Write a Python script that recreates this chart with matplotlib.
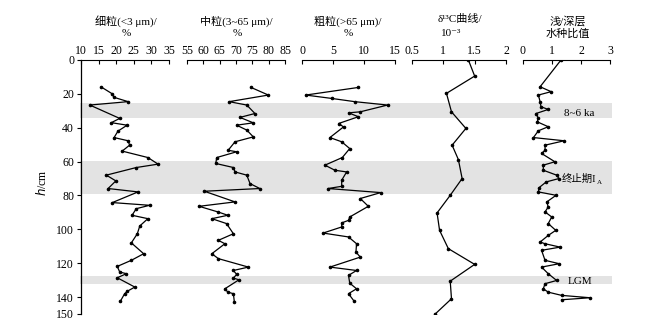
import matplotlib
matplotlib.use("Agg")
import matplotlib.pyplot as plt

# fonts: serif digits, CJK fallback for the Chinese titles
FONTS = ["Liberation Serif", "DejaVu Serif", "Noto Sans CJK SC"]
plt.rcParams["font.family"] = FONTS
plt.rcParams["font.size"] = 8

# ---- data (depth in cm) ----
fine_depth = [16, 20, 22, 24.6, 26.6, 34.5, 37, 38.5, 42, 45.8, 47.7, 50.3, 53.8,
              57.6, 61.5, 63.5, 68, 71.4, 75.9, 77.9, 84.2, 85.8, 87.8, 91.7, 93.7,
              98, 102.6, 108, 114.4, 118.3, 121.9, 125.2, 126.2, 128.6, 134.1,
              136.5, 138, 142.4]
fine_val = [15.8, 18.9, 19.3, 23.4, 12.5, 21.0, 18.6, 23.1, 20.5, 19.4, 23.4, 23.8,
            21.7, 29.0, 31.9, 25.7, 17.2, 19.9, 17.7, 26.2, 18.9, 29.5, 25.7, 24.5,
            29.0, 26.7, 26.0, 24.3, 27.8, 24.3, 20.3, 21.0, 22.9, 20.3, 25.3, 23.2,
            22.4, 21.2]

mid_depth = [16.2, 20.7, 24.6, 26.6, 31.6, 33.9, 37.1, 38.5, 41.4, 45.4, 48.3, 53.3,
             54.2, 57.6, 61.1, 63.5, 66.1, 68, 73, 75.9, 77.5, 83.8, 86.4, 89.8,
             91.7, 93.7, 96.6, 102.6, 106.5, 108.5, 114.4, 117.3, 122.3, 124.3,
             126.6, 128.8, 129.8, 135.1, 137.1, 138, 143]
mid_val = [74.6, 79.9, 67.9, 73.3, 75.8, 71.2, 75.3, 70.2, 73.3, 75.3, 69.7, 67.6,
           70.2, 64.1, 63.8, 69.2, 69.7, 73.3, 74.3, 77.3, 60.3, 69.7, 58.7, 64.6,
           67.5, 62.6, 67.1, 69.2, 64.6, 66.6, 62.6, 64.6, 73.8, 69.2, 70.2, 69.2,
           70.9, 66.6, 67.5, 69.2, 69.5]

coarse_depth = [16.2, 20.7, 22.7, 24.6, 26.6, 30.6, 31.2, 33.5, 37.5, 39.5, 45.8,
                48.3, 52.3, 57.6, 62.1, 65.1, 66.1, 71, 74.6, 75.9, 78.3, 81.8,
                86.4, 92.7, 94.7, 96.2, 98.6, 102.2, 104.5, 108.5, 113.4, 116.4,
                122.3, 124.3, 127.2, 131.8, 135.1, 138, 142.4]
coarse_val = [9.1, 0.6, 4.8, 8.5, 13.8, 9.4, 7.5, 9.1, 5.9, 6.7, 4.5, 6.4, 7.7, 6.5,
              3.7, 5.3, 7.2, 6.4, 6.4, 4.2, 12.7, 9.4, 10.7, 7.7, 7.5, 6.4, 6.4,
              3.4, 7.5, 8.8, 8.7, 9.4, 4.5, 8.8, 7.5, 7.7, 8.8, 7.5, 8.4]

d13c_depth = [0, 9.5, 19.7, 30.6, 40.4, 50.3, 58.8, 70, 79.9, 90.3, 100.6, 111.4,
              120.7, 130.6, 141, 150]
d13c_val = [1.40, 1.50, 1.05, 1.13, 1.36, 1.14, 1.24, 1.30, 1.11, 0.90, 0.94, 1.08,
            1.50, 1.11, 1.13, 0.87]

ratio_depth = [0, 15.8, 18.7, 20.7, 24.7, 27.6, 29.2, 31.6, 34.5, 36.5, 39.4, 41.8,
               45.8, 47.7, 50.3, 53.3, 55.2, 60.1, 62.1, 65.1, 68, 70, 72, 75.3,
               77.9, 79.9, 83.8, 86.8, 89.7, 92.7, 96.6, 100.6, 103.6, 107.5, 108.5,
               110.5, 112.4, 118.3, 120.3, 122.3, 126.2, 130.2, 132.1, 135.1, 137.1,
               139, 140.4, 141.6]
ratio_val = [1.31, 0.59, 0.97, 0.53, 0.59, 0.62, 0.87, 0.45, 0.53, 0.49, 0.87, 0.53,
             0.36, 1.42, 0.76, 0.76, 0.64, 1.10, 0.70, 0.70, 1.16, 1.24, 0.80, 0.56,
             0.53, 1.14, 0.82, 0.87, 0.76, 0.99, 0.87, 1.13, 0.87, 0.59, 0.76,
             1.28, 0.64, 0.76, 1.25, 0.64, 0.87, 1.16, 0.76, 0.70, 0.87, 1.33,
             2.31, 1.33]

series = [(fine_depth, fine_val), (mid_depth, mid_val), (coarse_depth, coarse_val),
          (d13c_depth, d13c_val), (ratio_depth, ratio_val)]

x_ranges = [(10, 35), (55, 85), (0, 15), (0.5, 2), (0, 3)]
x_ticks = [[10, 15, 20, 25, 30, 35], [55, 60, 65, 70, 75, 80, 85], [0, 5, 10, 15],
           [0.5, 1, 1.5, 2], [0, 1, 2, 3]]
x_ticklabels = [None, None, None, ["0.5", "1", "1.5", "2"], None]

y_ticks = [0, 20, 40, 60, 80, 100, 120, 140, 150]

bands = [(25.5, 34), (59.6, 79), (127.8, 132)]

# ---- layout (pixels of a 648x326 picture) ----
W, H = 648, 326
panel_px = [(81, 169), (187, 285), (302, 395), (412, 506), (523, 610)]
top_px, bot_px = 60, 314


def fx(px):
    return px / W


def fy(py):
    return 1 - py / H


fig = plt.figure(figsize=(W / 100, H / 100), dpi=100)

# gray bands drawn behind all panels
bg = fig.add_axes([fx(80), fy(bot_px), fx(612 - 80), (bot_px - top_px) / H])
bg.set_ylim(150, 0)
bg.set_xlim(0, 1)
bg.axis("off")
for b0, b1 in bands:
    bg.axhspan(b0, b1, color="#e3e3e3", lw=0)

for i in range(5):
    x0, x1 = panel_px[i]
    ax = fig.add_axes([fx(x0), fy(bot_px), fx(x1 - x0), (bot_px - top_px) / H])
    ax.patch.set_alpha(0)
    d, v = series[i]
    ax.plot(v, d, color="black", lw=0.9, marker="o", ms=1.6)
    ax.set_xlim(*x_ranges[i])
    ax.set_ylim(150, 0)
    ax.xaxis.tick_top()
    ax.set_xticks(x_ticks[i])
    if x_ticklabels[i] is not None:
        ax.set_xticklabels(x_ticklabels[i])
    ax.tick_params(axis="x", direction="in", length=3, width=0.8, pad=2,
                   labelsize=8.5)
    for s in ["right", "bottom"]:
        ax.spines[s].set_visible(False)
    ax.spines["top"].set_linewidth(0.8)
    if i == 0:
        ax.set_yticks(y_ticks)
        ax.tick_params(axis="y", direction="out", length=3, width=0.8, pad=2,
                       labelsize=8.5)
        ax.spines["left"].set_linewidth(0.9)
    else:
        ax.spines["left"].set_visible(False)
        ax.set_yticks([])

# panel titles
fig.text(fx(126), fy(21), "细粒(<3 μm)/", ha="center", va="center", fontsize=8)
fig.text(fx(126), fy(34), "%", ha="center", va="center", fontsize=8)
fig.text(fx(236), fy(21), "中粒(3~65 μm)/", ha="center", va="center", fontsize=8)
fig.text(fx(237), fy(34), "%", ha="center", va="center", fontsize=8)
fig.text(fx(348), fy(21), "粗粒(>65 μm)/", ha="center", va="center", fontsize=8)
fig.text(fx(348), fy(34), "%", ha="center", va="center", fontsize=8)
fig.text(fx(460), fy(19), "δ¹³C曲线/", ha="center", va="center", fontsize=8)
fig.text(fx(451), fy(34), "10⁻³", ha="center", va="center", fontsize=8)
fig.text(fx(568), fy(21), "浅/深层", ha="center", va="center", fontsize=8)
fig.text(fx(568), fy(34), "水种比值", ha="center", va="center", fontsize=8)

# y label
fig.text(fx(42), fy(183), "$h$/cm", ha="center", va="center", rotation=90,
         fontsize=8.5)

# band labels
fig.text(fx(564), fy(113), "8~6 ka", ha="left", va="center", fontsize=8)
t_end = fig.text(fx(562), fy(179), "终止期I", ha="left", va="center", fontsize=7.5)
fig.canvas.draw()
ext = t_end.get_window_extent(renderer=fig.canvas.get_renderer())
fig.text(ext.x1 / W + 0.001, fy(182), "A", ha="left", va="center", fontsize=5)
fig.text(fx(568), fy(281), "LGM", ha="left", va="center", fontsize=8)

fig.savefig("out.png", dpi=100)
